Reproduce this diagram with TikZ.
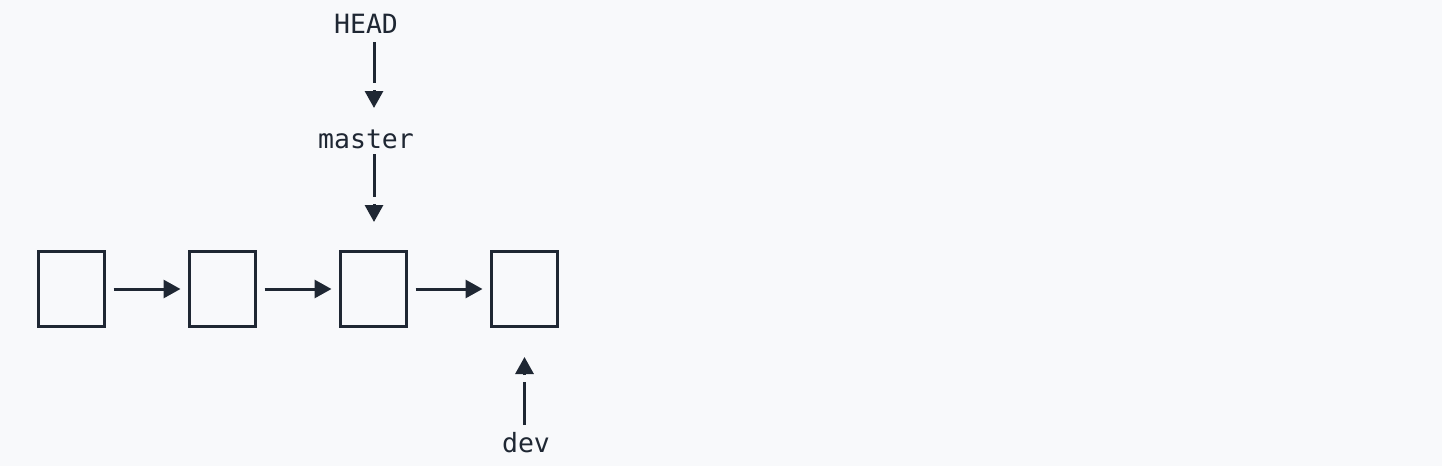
\documentclass[tikz,border=0pt]{standalone}
\usepackage{fontspec}
\setmonofont{DejaVu Sans Mono}
\usetikzlibrary{arrows.meta}
\definecolor{bg}{HTML}{F8F9FB}
\definecolor{ink}{HTML}{1F2733}
\tikzset{
  commit/.style={draw=ink, line width=3pt, rectangle, minimum width=66pt, minimum height=75pt, inner sep=0pt, outer sep=0pt},
  lbl/.style={text=ink, font=\ttfamily\fontsize{26.5pt}{30pt}\selectfont, anchor=base, inner sep=0pt},
  conn/.style={draw=ink, line width=3pt},
  headtip/.style={-{Triangle[length=17pt,width=18pt]}},
}
\begin{document}
\begin{tikzpicture}[x=1pt,y=-1pt]
\fill[bg] (0,0) rectangle (1442,466);
\useasboundingbox (0,0) rectangle (1442,466);
% commits
\node[commit] (b1) at (71.5,289) {};
\node[commit] (b2) at (222.5,289) {};
\node[commit] (b3) at (373.5,289) {};
\node[commit] (b4) at (524.5,289) {};
% labels
\node[lbl] (head) at (366,33) {HEAD};
\node[lbl] (master) at (366,148) {master};
\node[lbl] (dev) at (526,452) {dev};
% horizontal links
\draw[conn, headtip, shorten <=9pt, shorten >=9pt] (b1.east) -- (b2.west);
\draw[conn, headtip, shorten <=9pt, shorten >=9pt] (b2.east) -- (b3.west);
\draw[conn, headtip, shorten <=9pt, shorten >=9pt] (b3.east) -- (b4.west);
% HEAD -> master
\coordinate (h0) at (374,42);
\coordinate (h1) at (374,83);
\coordinate (h2) at (374,90);
\coordinate (h3) at (374,108);
\draw[conn] (h0) -- (h1);
\draw[conn, headtip] (h2) -- (h3);
% master -> commit 3
\coordinate (m0) at (374,154);
\coordinate (m1) at (374,197);
\coordinate (m2) at (374,204);
\coordinate (m3) at (374,222);
\draw[conn] (m0) -- (m1);
\draw[conn, headtip] (m2) -- (m3);
% dev -> commit 4
\coordinate (d0) at (524.5,425);
\coordinate (d1) at (524.5,382);
\coordinate (d2) at (524.5,375);
\coordinate (d3) at (524.5,357);
\draw[conn] (d0) -- (d1);
\draw[conn, headtip] (d2) -- (d3);
\end{tikzpicture}
\end{document}
